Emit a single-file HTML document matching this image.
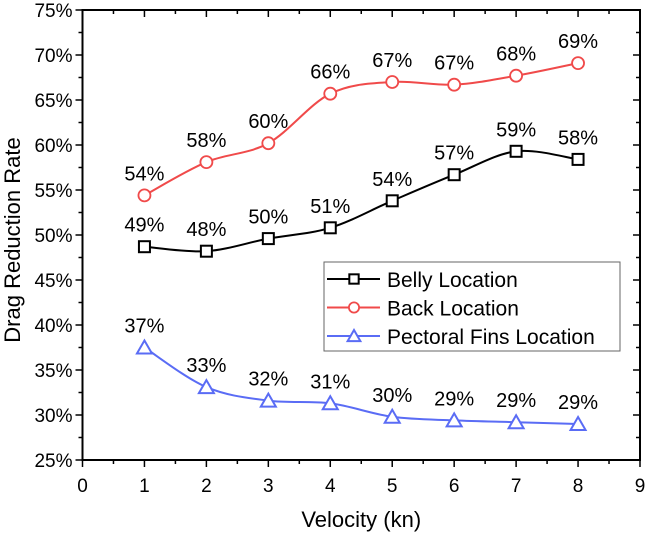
<!DOCTYPE html>
<html><head><meta charset="utf-8"><style>
body{margin:0;background:#fff;}
svg{display:block;font-family:"Liberation Sans",Arial,sans-serif;}
</style></head><body>
<svg id="chart" width="646" height="533"></svg>
<script>
const categories=[1,2,3,4,5,6,7,8];
const bellyValues=[48.7,48.2,49.6,50.8,53.8,56.7,59.3,58.4];
const bellyLabels=["49%","48%","50%","51%","54%","57%","59%","58%"];
const backValues=[54.4,58.1,60.2,65.7,67.0,66.7,67.7,69.1];
const backLabels=["54%","58%","60%","66%","67%","67%","68%","69%"];
const finValues=[37.5,33.1,31.6,31.3,29.8,29.4,29.2,29.0];
const finLabels=["37%","33%","32%","31%","30%","29%","29%","29%"];
const xTicks=[0,1,2,3,4,5,6,7,8,9];
const yTicks=[25,30,35,40,45,50,55,60,65,70,75];

const NS="http://www.w3.org/2000/svg";
const svg=document.getElementById('chart');
const X0=82.5,X1=640,Y0=460,Y1=10;
const xs=v=>X0+(v-0)/(9-0)*(X1-X0);
const ys=v=>Y0-(v-25)/(75-25)*(Y0-Y1);
function el(t,a,p){const e=document.createElementNS(NS,t);for(const k in a)e.setAttribute(k,a[k]);(p||svg).appendChild(e);return e;}

const axes=el('g',{});


el('rect',{x:X0,y:Y1,width:X1-X0,height:Y0-Y1,fill:'none',stroke:'#000','stroke-width':2},axes);
xTicks.forEach((t,i)=>{
  const x=xs(t);
  el('line',{x1:x,x2:x,y1:Y0,y2:Y0+7,stroke:'#000','stroke-width':1.5},axes);
  el('line',{x1:x,x2:x,y1:Y1,y2:Y1+7,stroke:'#000','stroke-width':1.5},axes);
  if(i<xTicks.length-1){const xm=xs(t+0.5);
    el('line',{x1:xm,x2:xm,y1:Y0,y2:Y0+4,stroke:'#000','stroke-width':1.5},axes);
    el('line',{x1:xm,x2:xm,y1:Y1,y2:Y1+4,stroke:'#000','stroke-width':1.5},axes);}
  const tx=el('text',{x:x,y:Y0+32,'font-size':19,'text-anchor':'middle'},axes);tx.textContent=t;
  
  
});
yTicks.forEach((t,i)=>{
  const y=ys(t);
  el('line',{x1:X0,x2:X0-7,y1:y,y2:y,stroke:'#000','stroke-width':1.5},axes);
  el('line',{x1:X1,x2:X1-7,y1:y,y2:y,stroke:'#000','stroke-width':1.5},axes);
  if(i<yTicks.length-1){const ym=ys(t+2.5);
    el('line',{x1:X0,x2:X0-4,y1:ym,y2:ym,stroke:'#000','stroke-width':1.5},axes);
    el('line',{x1:X1,x2:X1-4,y1:ym,y2:ym,stroke:'#000','stroke-width':1.5},axes);}
  const tx=el('text',{x:X0-10,y:y+7,'font-size':19,'text-anchor':'end'},axes);tx.textContent=t+'%';
  
  
});
const xt=el('text',{x:(X0+X1)/2,y:527,'font-size':22,'text-anchor':'middle'});xt.textContent='Velocity (kn)';


const yt=el('text',{x:0,y:0,'font-size':22,'text-anchor':'middle',transform:'translate(20,'+((Y0+Y1)/2+5)+') rotate(-90)'});yt.textContent='Drag Reduction Rate';



function smooth(pts){let d='M'+pts[0][0]+','+pts[0][1];
  for(let i=0;i<pts.length-1;i++){const p0=pts[i-1]||pts[i],p1=pts[i],p2=pts[i+1],p3=pts[i+2]||p2;
    const c1=[p1[0]+(p2[0]-p0[0])/6,p1[1]+(p2[1]-p0[1])/6],c2=[p2[0]-(p3[0]-p1[0])/6,p2[1]-(p3[1]-p1[1])/6];
    d+=' C'+c1+' '+c2+' '+p2;}return d;}
function marker(g,type,x,y,color,s){s=s||1;
  if(type==='sq')return el('rect',{x:x-5.5*s,y:y-5.5*s,width:11*s,height:11*s,fill:'#fff',stroke:color,'stroke-width':2},g);
  if(type==='ci')return el('circle',{cx:x,cy:y,r:6*s,fill:'#fff',stroke:color,'stroke-width':1.8},g);
  return el('path',{d:`M${x},${y-7*s} L${x+7.5*s},${y+6*s} L${x-7.5*s},${y+6*s}Z`,fill:'#fff',stroke:color,'stroke-width':2},g);}
function series(name,vals,labels,color,type){
  const g=el('g',{});
  
  
  const pts=vals.map((v,i)=>[xs(categories[i]),ys(v)]);
  el('path',{d:smooth(pts),fill:'none',stroke:color,'stroke-width':2},g);
  pts.forEach((p,i)=>{const m=marker(g,type,p[0],p[1],color);
    
    
    const t=el('text',{x:p[0],y:p[1]-15,'font-size':20,'text-anchor':'middle'},g);t.textContent=labels[i];
    
    });
}
series('belly',bellyValues,bellyLabels,'#000','sq');
series('back',backValues,backLabels,'#f04a4a','ci');
series('pectoral',finValues,finLabels,'#5a6cf5','tr');

const lg=el('g',{});


el('rect',{x:324,y:262,width:296,height:89,fill:'#fff',stroke:'#666','stroke-width':1},lg);
[['Belly Location','#000','sq'],['Back Location','#f04a4a','ci'],['Pectoral Fins Location','#5a6cf5','tr']].forEach((e,i)=>{
  const y=279+i*28.5;
  const it=el('g',{},lg);
  
  
  el('line',{x1:327,x2:380,y1:y,y2:y,stroke:e[1],'stroke-width':2},it);
  marker(it,e[2],354,y,e[1],0.85);
  const t=el('text',{x:387,y:y+8,'font-size':21},it);t.textContent=e[0];
});
</script>
</body></html>
